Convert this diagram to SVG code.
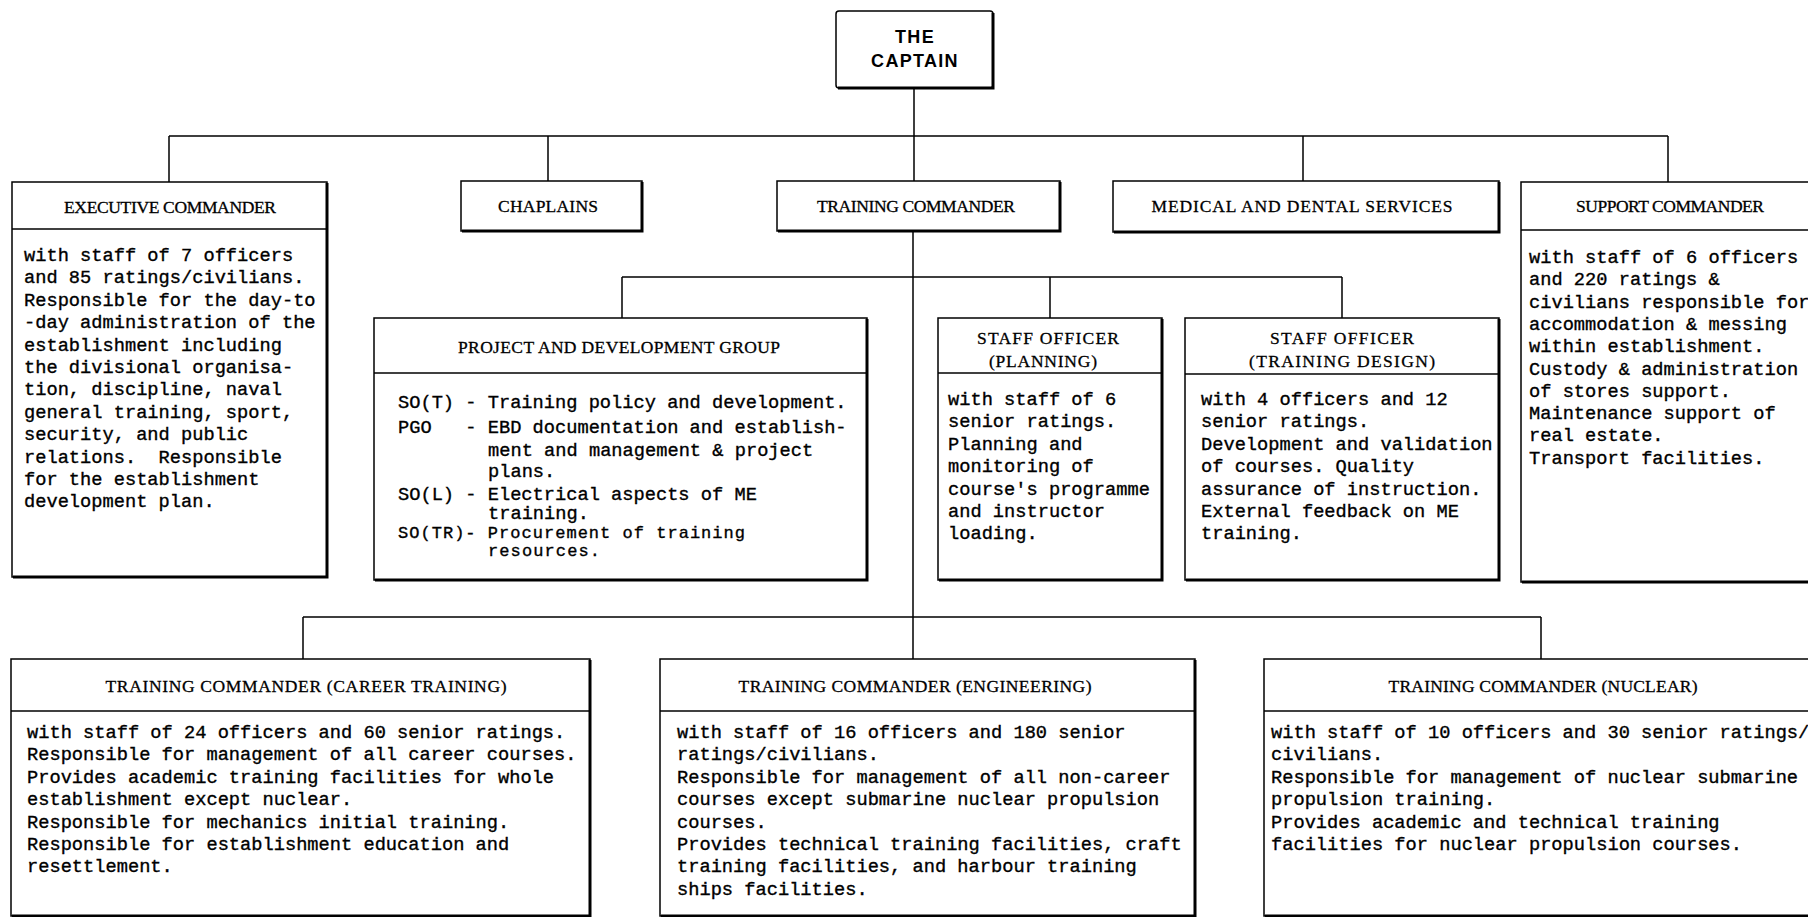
<svg xmlns="http://www.w3.org/2000/svg" width="1808" height="917" viewBox="0 0 1808 917">
<style>
.box{fill:#fff;stroke:#000;stroke-width:1.5}
.sh{fill:none;stroke:#000;stroke-width:3}
.div{stroke:#000;stroke-width:1.5}
.conn{stroke:#000;stroke-width:1.5;fill:none}
.hdr{font-family:"Liberation Serif","Times New Roman",serif;font-size:17.5px;text-anchor:middle;fill:#000;stroke:#000;stroke-width:0.3px}
.cap{font-family:"Liberation Sans",Arial,sans-serif;font-weight:bold;font-size:18px;letter-spacing:1.3px;text-anchor:middle;fill:#000}
.body{font-family:"Liberation Mono","Courier New",monospace;font-size:18.7px;fill:#000;stroke:#000;stroke-width:0.35px;white-space:pre}
.tight{font-size:17px}
</style>
<rect width="1808" height="917" fill="#fff"/>
<g id="connectors">
<path class="conn" d="M914 88V136M169 136H1668M169 136V182M548 136V181M914 136V181M1303 136V181M1668 136V182"/>
<path class="conn" d="M913 231V659M622 277H1342M622 277V318M1050 277V318M1342 277V318"/>
<path class="conn" d="M303 617H1541M303 617V659M1541 617V659"/>
</g>
<g id="captain">
<rect class="box" x="836" y="11" width="157" height="77" rx="3"/>
<path class="sh" d="M993 13V88H838"/>
<text class="cap" x="915" y="43">THE</text>
<text class="cap" x="915" y="67">CAPTAIN</text>
</g>
<g id="executive-commander">
<rect class="box" x="12" y="182" width="315" height="395"/>
<path class="sh" d="M327 183V577H13"/>
<line class="div" x1="12" y1="229" x2="327" y2="229"/>
<text class="hdr" x="170" y="213" textLength="212">EXECUTIVE COMMANDER</text>
<text class="body" xml:space="preserve"><tspan x="24" y="261">with staff of 7 officers</tspan><tspan x="24" y="283.4">and 85 ratings/civilians.</tspan><tspan x="24" y="305.8">Responsible for the day-to</tspan><tspan x="24" y="328.2">-day administration of the</tspan><tspan x="24" y="350.6">establishment including</tspan><tspan x="24" y="373">the divisional organisa-</tspan><tspan x="24" y="395.4">tion, discipline, naval</tspan><tspan x="24" y="417.8">general training, sport,</tspan><tspan x="24" y="440.2">security, and public</tspan><tspan x="24" y="462.6">relations.  Responsible</tspan><tspan x="24" y="485">for the establishment</tspan><tspan x="24" y="507.4">development plan.</tspan></text>
</g>
<g id="chaplains">
<rect class="box" x="461" y="181" width="181" height="50"/>
<path class="sh" d="M642 182V231H462"/>
<text class="hdr" x="548" y="212" textLength="100">CHAPLAINS</text>
</g>
<g id="training-commander">
<rect class="box" x="777" y="181" width="283" height="50"/>
<path class="sh" d="M1060 182V231H778"/>
<text class="hdr" x="916" y="212" textLength="198">TRAINING COMMANDER</text>
</g>
<g id="medical">
<rect class="box" x="1113" y="181" width="386" height="51"/>
<path class="sh" d="M1499 182V232H1114"/>
<text class="hdr" x="1302" y="212" textLength="301">MEDICAL AND DENTAL SERVICES</text>
</g>
<g id="support-commander">
<rect class="box" x="1521" y="182" width="310" height="400"/>
<path class="sh" d="M1522 582H1831"/>
<line class="div" x1="1521" y1="230" x2="1831" y2="230"/>
<text class="hdr" x="1670" y="212" textLength="188">SUPPORT COMMANDER</text>
<text class="body" xml:space="preserve"><tspan x="1529" y="263">with staff of 6 officers</tspan><tspan x="1529" y="285.3">and 220 ratings &amp;</tspan><tspan x="1529" y="307.6">civilians responsible for</tspan><tspan x="1529" y="329.9">accommodation &amp; messing</tspan><tspan x="1529" y="352.2">within establishment.</tspan><tspan x="1529" y="374.5">Custody &amp; administration</tspan><tspan x="1529" y="396.8">of stores support.</tspan><tspan x="1529" y="419.1">Maintenance support of</tspan><tspan x="1529" y="441.4">real estate.</tspan><tspan x="1529" y="463.7">Transport facilities.</tspan></text>
</g>
<g id="project-development">
<rect class="box" x="374" y="318" width="493" height="262"/>
<path class="sh" d="M867 319V580H375"/>
<line class="div" x1="374" y1="373" x2="867" y2="373"/>
<text class="hdr" x="619" y="353" textLength="322">PROJECT AND DEVELOPMENT GROUP</text>
<text class="body" xml:space="preserve"><tspan x="398" y="408">SO(T) - Training policy and development.</tspan><tspan x="398" y="433">PGO   - EBD documentation and establish-</tspan><tspan x="488" y="456">ment and management &amp; project</tspan><tspan x="488" y="477">plans.</tspan><tspan x="398" y="500">SO(L) - Electrical aspects of ME</tspan><tspan x="488" y="519">training.</tspan></text>
<text class="body tight" xml:space="preserve"><tspan x="398" y="538" textLength="347">SO(TR)- Procurement of training</tspan><tspan x="488" y="556" textLength="112">resources.</tspan></text>
</g>
<g id="staff-officer-planning">
<rect class="box" x="938" y="318" width="224" height="262"/>
<path class="sh" d="M1162 319V580H939"/>
<line class="div" x1="938" y1="373" x2="1162" y2="373"/>
<text class="hdr" x="1048" y="344" textLength="142">STAFF OFFICER</text>
<text class="hdr" x="1043" y="367" textLength="108">(PLANNING)</text>
<text class="body" xml:space="preserve"><tspan x="948" y="405">with staff of 6</tspan><tspan x="948" y="427.4">senior ratings.</tspan><tspan x="948" y="449.8">Planning and</tspan><tspan x="948" y="472.2">monitoring of</tspan><tspan x="948" y="494.6">course's programme</tspan><tspan x="948" y="517">and instructor</tspan><tspan x="948" y="539.4">loading.</tspan></text>
</g>
<g id="staff-officer-training-design">
<rect class="box" x="1185" y="318" width="314" height="262"/>
<path class="sh" d="M1499 319V580H1186"/>
<line class="div" x1="1185" y1="374" x2="1499" y2="374"/>
<text class="hdr" x="1342" y="344" textLength="144">STAFF OFFICER</text>
<text class="hdr" x="1342" y="367" textLength="186">(TRAINING DESIGN)</text>
<text class="body" xml:space="preserve"><tspan x="1201" y="405">with 4 officers and 12</tspan><tspan x="1201" y="427.4">senior ratings.</tspan><tspan x="1201" y="449.8">Development and validation</tspan><tspan x="1201" y="472.2">of courses. Quality</tspan><tspan x="1201" y="494.6">assurance of instruction.</tspan><tspan x="1201" y="517">External feedback on ME</tspan><tspan x="1201" y="539.4">training.</tspan></text>
</g>
<g id="training-commander-career">
<rect class="box" x="11" y="659" width="579" height="257"/>
<path class="sh" d="M590 660V916H12"/>
<line class="div" x1="11" y1="711" x2="590" y2="711"/>
<text class="hdr" x="306" y="692" textLength="401">TRAINING COMMANDER (CAREER TRAINING)</text>
<text class="body" xml:space="preserve"><tspan x="27" y="738">with staff of 24 officers and 60 senior ratings.</tspan><tspan x="27" y="760.4">Responsible for management of all career courses.</tspan><tspan x="27" y="782.8">Provides academic training facilities for whole</tspan><tspan x="27" y="805.2">establishment except nuclear.</tspan><tspan x="27" y="827.6">Responsible for mechanics initial training.</tspan><tspan x="27" y="850">Responsible for establishment education and</tspan><tspan x="27" y="872.4">resettlement.</tspan></text>
</g>
<g id="training-commander-engineering">
<rect class="box" x="660" y="659" width="535" height="257"/>
<path class="sh" d="M1195 660V916H661"/>
<line class="div" x1="660" y1="711" x2="1195" y2="711"/>
<text class="hdr" x="915" y="692" textLength="353">TRAINING COMMANDER (ENGINEERING)</text>
<text class="body" xml:space="preserve"><tspan x="677" y="738">with staff of 16 officers and 180 senior</tspan><tspan x="677" y="760.4">ratings/civilians.</tspan><tspan x="677" y="782.8">Responsible for management of all non-career</tspan><tspan x="677" y="805.2">courses except submarine nuclear propulsion</tspan><tspan x="677" y="827.6">courses.</tspan><tspan x="677" y="850">Provides technical training facilities, craft</tspan><tspan x="677" y="872.4">training facilities, and harbour training</tspan><tspan x="677" y="894.8">ships facilities.</tspan></text>
</g>
<g id="training-commander-nuclear">
<rect class="box" x="1264" y="659" width="567" height="257"/>
<path class="sh" d="M1265 916H1831"/>
<line class="div" x1="1264" y1="711" x2="1831" y2="711"/>
<text class="hdr" x="1543" y="692" textLength="309">TRAINING COMMANDER (NUCLEAR)</text>
<text class="body" xml:space="preserve"><tspan x="1271" y="738">with staff of 10 officers and 30 senior ratings/</tspan><tspan x="1271" y="760.4">civilians.</tspan><tspan x="1271" y="782.8">Responsible for management of nuclear submarine</tspan><tspan x="1271" y="805.2">propulsion training.</tspan><tspan x="1271" y="827.6">Provides academic and technical training</tspan><tspan x="1271" y="850">facilities for nuclear propulsion courses.</tspan></text>
</g>
</svg>
